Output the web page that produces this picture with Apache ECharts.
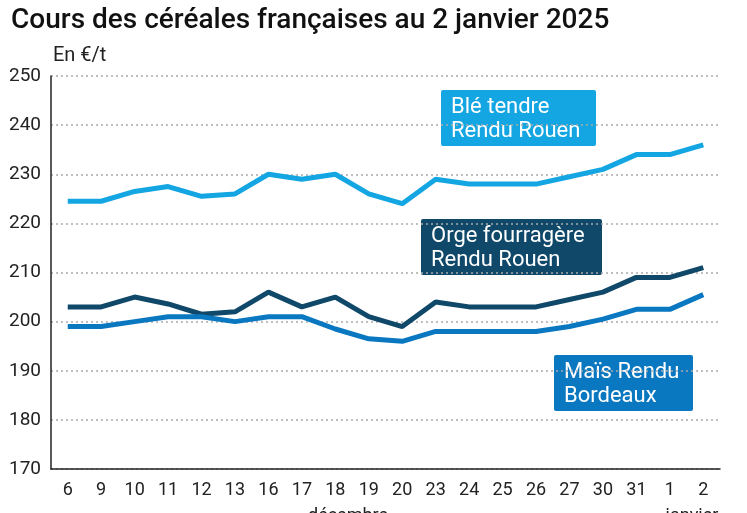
<!DOCTYPE html>
<html><head><meta charset="utf-8">
<script src="https://cdn.jsdelivr.net/npm/echarts@6/dist/echarts.min.js"></script>
<style>html,body{margin:0;padding:0;background:#fff}#c{width:747px;height:513px}</style>
</head><body><div id="c"></div>
<script>
const days = ['6','9','10','11','12','13','16','17','18','19','20','23','24','25','26','27','30','31','1','2'];
const ble = [224.5,224.5,226.5,227.5,225.5,226,230,229,230,226,224,229,228,228,228,229.5,231,234,234,236];
const orge = [203,203,205,203.6,201.5,202,206,203,205,201,199,204,203,203,203,204.5,206,209,209,211];
const mais = [199,199,200,201,201,200,201,201,198.5,196.5,196,198,198,198,198,199,200.5,202.5,202.5,205.5];
const yTicks = {min:170, max:250, interval:10};
const months = [{name:'décembre', x:348}, {name:'janvier', x:692}];

const font = 'Roboto, "Noto Sans", sans-serif';
const chart = echarts.init(document.getElementById('c'), null, {renderer:'canvas'});
const lineS = (name, data, color) => ({
  name, type:'line', data, symbol:'none', smooth:false,
  lineStyle:{width:5, color}, itemStyle:{color}
});
const box = (left, top, w, h, color, text) => ({
  type:'group', left, top, children:[
    {type:'rect', shape:{x:0,y:0,width:w,height:h,r:2}, style:{fill:color}},
    {type:'text', x:10, y:5, style:{text, fill:'#fff', font:'22px '+font, lineHeight:24}}
  ]});
chart.setOption({
  animation:false,
  title:{text:'Cours des céréales françaises au 2 janvier 2025', left:6, top:2,
    textStyle:{fontFamily:font, fontSize:28, fontWeight:500, color:'#111'}},
  grid:{left:51, right:27, top:76, bottom:44},
  xAxis:{type:'category', data:days, boundaryGap:true,
    axisLine:{lineStyle:{color:'#222', width:1.5}}, axisTick:{show:false},
    axisLabel:{fontFamily:font, fontSize:18, color:'#222', margin:12}},
  yAxis:{type:'value', min:yTicks.min, max:yTicks.max, interval:yTicks.interval,
    name:'En €/t', nameLocation:'end', nameGap:10,
    nameTextStyle:{fontFamily:font, fontSize:20, color:'#222', align:'left', padding:[0,0,0,2]},
    axisLine:{show:true, lineStyle:{color:'#222', width:1.5}}, axisTick:{show:false},
    axisLabel:{fontFamily:font, fontSize:19, color:'#222', margin:10},
    splitLine:{lineStyle:{type:[2,3], color:'#aaa', width:1.5}}},
  series:[lineS('Blé', ble, '#13a6e2'), lineS('Orge', orge, '#0f4868'), lineS('Maïs', mais, '#0a77c1')],
  graphic:[
    box(441, 90, 155, 56, '#13a6e2', 'Blé tendre\nRendu Rouen'),
    box(421, 219, 181, 56, '#0f4868', 'Orge fourragère\nRendu Rouen'),
    box(554, 355, 139, 56, '#0a77c1', 'Maïs Rendu\nBordeaux'),
    ...months.map(m => ({type:'text', x:m.x, y:507, style:{text:m.name, fill:'#222', font:'18px '+font, align:'center'}}))
  ]
});
</script></body></html>
